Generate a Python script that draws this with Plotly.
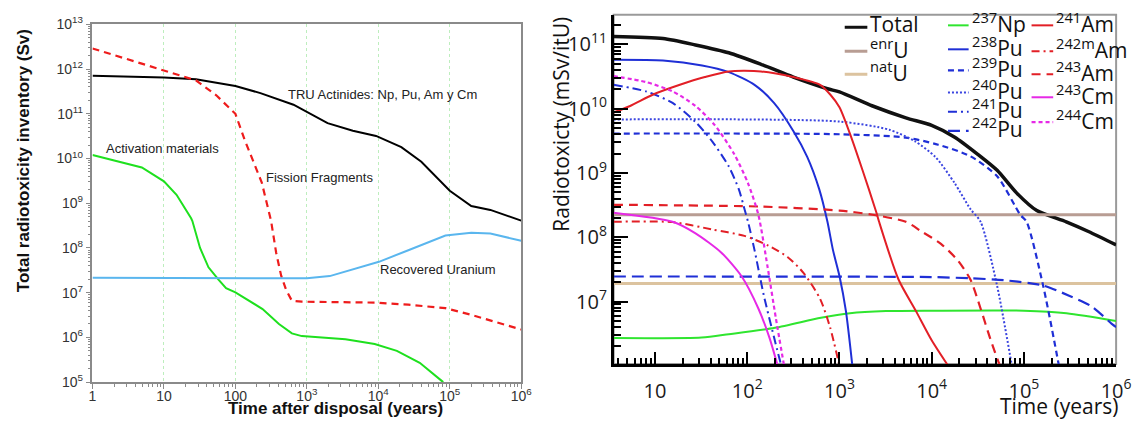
import plotly.graph_objects as go
import math

W, H = 1138, 440

# ---------------- Left panel: inventory by component (Sv) ----------------
tru_years = [1, 10, 28, 100, 224, 650, 1950, 4400, 9300, 21000, 40000, 1.0e5, 2.0e5, 3.7e5, 1.0e6]
tru_sv = [7.1e11, 6.5e11, 5.9e11, 4.2e11, 2.9e11, 1.6e11, 6.2e10, 4.2e10, 3.2e10, 1.8e10, 8.5e9,
          1.9e9, 8.7e8, 7.1e8, 4.1e8]

ff_years = [1, 10, 28, 54, 100, 135, 170, 234, 316, 372, 437, 513, 617, 850, 9300, 26300, 87000, 2.0e5, 1.0e6]
ff_sv = [2.9e12, 9.1e11, 5.6e11, 2.6e11, 1.0e11, 2.6e10, 1.0e10, 2.9e9, 4.0e8, 7.8e7, 2.4e7,
         1.15e7, 6.6e6, 6.3e6, 6.0e6, 5.4e6, 4.5e6, 3.2e6, 1.5e6]

act_years = [1, 4.9, 10, 15, 24, 25, 32, 42, 58, 74, 100, 240, 407, 617, 850, 3470, 8900, 18200, 38000, 81000]
act_sv = [1.2e10, 6.3e9, 3.1e9, 1.55e9, 4.6e8, 4.0e8, 1.0e8, 3.7e7, 1.95e7, 1.26e7, 1.02e7,
          4.3e6, 2.0e6, 1.23e6, 1.07e6, 9.1e5, 7.1e5, 5.0e5, 2.7e5, 1.0e5]

ru_years = [1, 224, 1000, 2090, 4370, 10200, 26300, 87000, 2.0e5, 3.7e5, 1.0e6]
ru_sv = [2.15e7, 2.05e7, 2.1e7, 2.35e7, 3.3e7, 4.9e7, 8.9e7, 1.9e8, 2.2e8, 2.1e8, 1.45e8]

left_labels = ["TRU Actinides: Np, Pu, Am y Cm", "Activation materials", "Fission Fragments", "Recovered Uranium"]
left_label_pos = [(4.06, 11.43), (0.98, 10.23), (3.18, 9.57), (4.84, 7.51)]  # log10 axis units

left_xticks = [1, 10, 100, 1e3, 1e4, 1e5, 1e6]
left_xtext = ["1", "10", "100", "10<sup>3</sup>", "10<sup>4</sup>", "10<sup>5</sup>", "10<sup>6</sup>"]
left_yexp = list(range(5, 14))

# ---------------- Right panel: radiotoxicity by nuclide (mSv/itU) ----------------
total_years = [3.56, 12.2, 27.4, 63, 141, 316, 741, 1000, 2290, 5250, 1.0e4, 17800, 31600, 51300,
               83200, 138000, 288000, 501000, 1.0e6]
total_val = [1.32e11, 1.23e11, 9.8e10, 7.4e10, 4.9e10, 3.1e10, 2.04e10, 1.82e10, 1.10e10, 7.2e9,
             5.5e9, 3.6e9, 1.95e9, 1.10e9, 4.9e8, 2.6e8, 1.74e8, 1.23e8, 7.6e7]

enru_years = [3.56, 1.0e6]
enru_val = [2.24e8, 2.24e8]
natu_years = [3.56, 1.0e6]
natu_val = [1.9e7, 1.9e7]

np237_years = [3.56, 32, 63, 200, 630, 1300, 3200, 1.0e4, 1.0e5, 290000, 1.0e6]
np237_val = [2.7e6, 2.75e6, 3.1e6, 3.9e6, 5.6e6, 6.6e6, 7.1e6, 7.2e6, 7.2e6, 6.6e6, 5.0e6]

pu238_years = [3.56, 12.2, 32.4, 63.1, 120, 195, 316, 447, 603, 741, 851, 1000, 1175, 1380]
pu238_val = [5.75e10, 5.6e10, 4.7e10, 3.7e10, 2.35e10, 1.23e10, 4.5e9, 1.78e9, 5.6e8, 1.74e8,
             6.3e7, 2.5e7, 7.1e6, 1.0e6]

pu239_years = [3.56, 1000, 5250, 11750, 26300, 51300, 91200, 107000, 162000, 240000]
pu239_val = [4.1e9, 4.0e9, 3.55e9, 2.75e9, 1.82e9, 8.9e8, 2.24e8, 1.74e8, 1.74e7, 1.0e6]

pu240_years = [3.56, 1000, 3470, 6610, 10960, 17800, 26300, 33900, 51300, 74100]
pu240_val = [6.8e9, 6.3e9, 4.7e9, 3.1e9, 1.78e9, 6.9e8, 2.75e8, 1.74e8, 1.74e7, 1.0e6]

pu241_years = [3.56, 7.94, 15.5, 27.5, 41.7, 63.1, 81.3, 93.3, 102, 120, 151, 195, 234]
pu241_val = [2.35e10, 1.86e10, 1.23e10, 6.2e9, 3.1e9, 1.26e9, 5.5e8, 2.75e8, 1.74e8, 6.3e7,
             1.26e7, 2.8e6, 1.0e6]

pu242_years = [3.56, 1.0e4, 26300, 60300, 162000, 309000, 550000, 912000, 1.0e6]
pu242_val = [2.45e7, 2.4e7, 2.3e7, 2.15e7, 1.78e7, 1.23e7, 8.3e6, 4.4e6, 4.0e6]

am241_years = [3.56, 5.37, 9.55, 18.6, 34.7, 63.1, 141, 316, 617, 794, 1000, 1290, 1780, 2510,
               2690, 4370, 6760, 1.0e4, 15100]
am241_val = [8.7e9, 1.1e10, 1.66e10, 2.35e10, 3.1e10, 3.8e10, 3.8e10, 3.1e10, 2.35e10, 1.66e10,
             1.05e10, 4.2e9, 1.1e9, 2.45e8, 1.74e8, 2.2e7, 7.1e6, 2.5e6, 1.0e6]

am242m_years = [3.56, 15.5, 41.7, 93.3, 170, 275, 407, 617, 794, 1000]
am242m_val = [1.74e8, 1.72e8, 1.32e8, 1.05e8, 7.4e7, 4.9e7, 2.8e7, 1.1e7, 3.9e6, 1.0e6]

am243_years = [3.56, 141, 1000, 2290, 5250, 7760, 12600, 19100, 26300, 33900, 43700, 55000]
am243_val = [3.2e8, 3.0e8, 2.6e8, 2.24e8, 1.74e8, 1.23e8, 7.9e7, 4.4e7, 2.2e7, 7.8e6, 2.5e6, 1.0e6]

cm243_years = [3.56, 15.5, 27.5, 52.5, 87.1, 132, 174, 214]
cm243_val = [2.4e8, 1.74e8, 1.15e8, 5.75e7, 2.45e7, 7.8e6, 2.75e6, 1.0e6]

cm244_years = [3.56, 7.94, 15.5, 27.5, 44.7, 72.4, 102, 132, 166, 204, 251]
cm244_val = [3.2e10, 2.6e10, 1.86e10, 1.1e10, 5.5e9, 1.95e9, 6.9e8, 2.24e8, 3.5e7, 5.6e6, 1.0e6]

right_xticks = [10, 100, 1e3, 1e4, 1e5, 1e6]
right_xtext = ["10", "10<sup>2</sup>", "10<sup>3</sup>", "10<sup>4</sup>", "10<sup>5</sup>", "10<sup>6</sup>"]
right_yexp = list(range(7, 12))

fig = go.Figure()

# ---- left traces ----
left_series = [
    (tru_years, tru_sv, dict(color="#000000", width=2)),
    (ff_years, ff_sv, dict(color="#ee1c1c", width=2.2, dash="7px,5px")),
    (act_years, act_sv, dict(color="#1ee01e", width=2)),
    (ru_years, ru_sv, dict(color="#5ab6ee", width=2)),
]
for xs, ys, ln in left_series:
    fig.add_trace(go.Scatter(x=xs, y=ys, mode="lines", line=ln, xaxis="x", yaxis="y",
                             showlegend=False, hoverinfo="skip"))

# ---- right traces (name, x, y, line style) ----
BLUE = "#1f2fd6"
RED = "#e21f26"
MAG = "#e629e6"
right_series = [
    ("Total", total_years, total_val, dict(color="#111111", width=3.5)),
    ("<sup>enr</sup>U", enru_years, enru_val, dict(color="#b89d93", width=3)),
    ("<sup>nat</sup>U", natu_years, natu_val, dict(color="#dcc39f", width=3)),
    ("<sup>237</sup>Np", np237_years, np237_val, dict(color="#2fe52f", width=2)),
    ("<sup>238</sup>Pu", pu238_years, pu238_val, dict(color=BLUE, width=2)),
    ("<sup>239</sup>Pu", pu239_years, pu239_val, dict(color=BLUE, width=2.2, dash="6px,4px")),
    ("<sup>240</sup>Pu", pu240_years, pu240_val, dict(color="#3a44e0", width=2, dash="2px,2px")),
    ("<sup>241</sup>Pu", pu241_years, pu241_val, dict(color=BLUE, width=2, dash="9px,4px,2px,4px")),
    ("<sup>242</sup>Pu", pu242_years, pu242_val, dict(color=BLUE, width=2.2, dash="12px,6px")),
    ("<sup>241</sup>Am", am241_years, am241_val, dict(color=RED, width=2)),
    ("<sup>242m</sup>Am", am242m_years, am242m_val, dict(color=RED, width=2, dash="8px,4px,2px,4px")),
    ("<sup>243</sup>Am", am243_years, am243_val, dict(color=RED, width=2.2, dash="9px,6px")),
    ("<sup>243</sup>Cm", cm243_years, cm243_val, dict(color=MAG, width=2)),
    ("<sup>244</sup>Cm", cm244_years, cm244_val, dict(color=MAG, width=2.2, dash="4px,3px")),
]
styles = {}
for name, xs, ys, ln in right_series:
    styles[name] = dict(ln)
    fig.add_trace(go.Scatter(x=xs, y=ys, mode="lines", line=dict(ln, shape="spline", smoothing=0.7),
                             xaxis="x2", yaxis="y2", name=name, showlegend=False, hoverinfo="skip"))

# ---- axes ----
def minor_vals(e0, e1):
    return [m * 10.0 ** e for e in range(e0, e1) for m in range(2, 10)]

LFONT = "Liberation Sans, Arial, sans-serif"
RFONT = "Open Sans, sans-serif"

left_common = dict(type="log", showline=True, linecolor="#8a8a8a", linewidth=1.5, mirror=True,
                   ticks="outside", tickcolor="#8a8a8a", ticklen=5, tickwidth=1,
                   tickfont=dict(family=LFONT, size=14, color="#333333"), zeroline=False)

fig.update_layout(
    width=W, height=H, margin=dict(l=0, r=0, t=0, b=0),
    paper_bgcolor="white", plot_bgcolor="white",
    xaxis=dict(domain=[90 / W, 526 / W], range=[0, 6], anchor="y",
               tickmode="array", tickvals=left_xticks, ticktext=left_xtext,
               ticklabelstandoff=-5,
               showgrid=True, gridcolor="#bdeebd", griddash="3px,3px", gridwidth=1,
               minor=dict(tickmode="array", tickvals=minor_vals(0, 6), ticks="outside",
                          ticklen=3, tickcolor="#8a8a8a", showgrid=False),
               **left_common),
    yaxis=dict(domain=[1 - 388 / H, 1 - 15 / H], range=[5, 13], anchor="x",
               tickmode="array", tickvals=[10.0 ** e for e in left_yexp],
               ticktext=["10<sup>%d</sup>" % e for e in left_yexp], showgrid=False,
               minor=dict(tickmode="array", tickvals=minor_vals(5, 13), ticks="outside",
                          ticklen=3, tickcolor="#8a8a8a"),
               **left_common),
    xaxis2=dict(type="log", domain=[620 / W, 1131 / W], range=[math.log10(3.56), 6], anchor="y2",
                showline=True, linecolor="#000000", linewidth=2.5, mirror=False,
                tickmode="array", tickvals=right_xticks, ticktext=right_xtext,
                ticks="inside", ticklen=12, tickwidth=1.5, tickcolor="#000000",
                ticklabelstandoff=7,
                minor=dict(tickmode="array", tickvals=minor_vals(0, 6), ticks="inside",
                           ticklen=6, tickwidth=1.5, tickcolor="#000000"),
                tickfont=dict(family=RFONT, size=20, color="#1a1a1a"),
                showgrid=False, zeroline=False),
    yaxis2=dict(type="log", domain=[1 - 369 / H, 1 - 5 / H], range=[6.03, 11.46], anchor="x2",
                showline=True, linecolor="#000000", linewidth=2.5, mirror=False,
                tickmode="array", tickvals=[10.0 ** e for e in right_yexp],
                ticktext=["10<sup>%d</sup>" % e for e in right_yexp],
                ticks="inside", ticklen=15, tickwidth=1.5, tickcolor="#000000",
                minor=dict(tickmode="array", tickvals=minor_vals(6, 12), ticks="inside",
                           ticklen=8, tickwidth=1.5, tickcolor="#000000"),
                tickfont=dict(family=RFONT, size=20, color="#1a1a1a"),
                showgrid=False, zeroline=False),
)

# grey frame around the right panel
fig.add_shape(type="rect", xref="x2 domain", yref="y2 domain", x0=0, x1=1, y0=0, y1=1,
              line=dict(color="#9a9a9a", width=2), layer="below")

# ---- left panel texts ----
for txt, (lx, ly) in zip(left_labels, left_label_pos):
    fig.add_annotation(x=lx, y=ly, xref="x", yref="y", text=txt, showarrow=False,
                       xanchor="center", yanchor="middle",
                       font=dict(family=LFONT, size=13, color="#222222"))

def title(text, px, py, size, family, angle=0):
    fig.add_annotation(x=px / W, y=1 - py / H, xref="paper", yref="paper", text=text,
                       textangle=angle, showarrow=False, xanchor="center", yanchor="middle",
                       font=dict(family=family, size=size, color="#111111"))

title("<b>Total radiotoxicity inventory (Sv)</b>", 20, 157, 17, LFONT, -90)
title("<b>Time after disposal (years)</b>", 337, 415, 17, LFONT)
title("Radiotoxicty (mSv/itU)", 567, 119, 21, RFONT, -90)
title("Time (years)", 1073, 413, 21, RFONT)

# ---- three-column key for the nuclide curves ----
key_columns = [
    (855, 878, ["Total", "<sup>enr</sup>U", "<sup>nat</sup>U"], [18, 43, 67]),
    (960, 981, ["<sup>237</sup>Np", "<sup>238</sup>Pu", "<sup>239</sup>Pu", "<sup>240</sup>Pu",
                "<sup>241</sup>Pu", "<sup>242</sup>Pu"], [16, 41, 63, 86, 106, 126]),
    (1045, 1067, ["<sup>241</sup>Am", "<sup>242m</sup>Am", "<sup>243</sup>Am", "<sup>243</sup>Cm",
                  "<sup>244</sup>Cm"], [16, 43, 67, 91, 117]),
]
for x0, x1, names, rows in key_columns:
    for name, yy in zip(names, rows):
        ln = dict(styles[name])
        ln["width"] = min(ln["width"], 3)
        fig.add_shape(type="line", xref="paper", yref="paper", x0=x0 / W, x1=x1 / W,
                      y0=1 - yy / H, y1=1 - yy / H, line=ln)
        fig.add_annotation(x=(x1 + 1) / W, y=1 - (yy - 3) / H, xref="paper", yref="paper",
                           text=name, showarrow=False, xanchor="left", yanchor="middle",
                           font=dict(family=RFONT, size=21, color="#111111"))

fig.write_html("out.html")
